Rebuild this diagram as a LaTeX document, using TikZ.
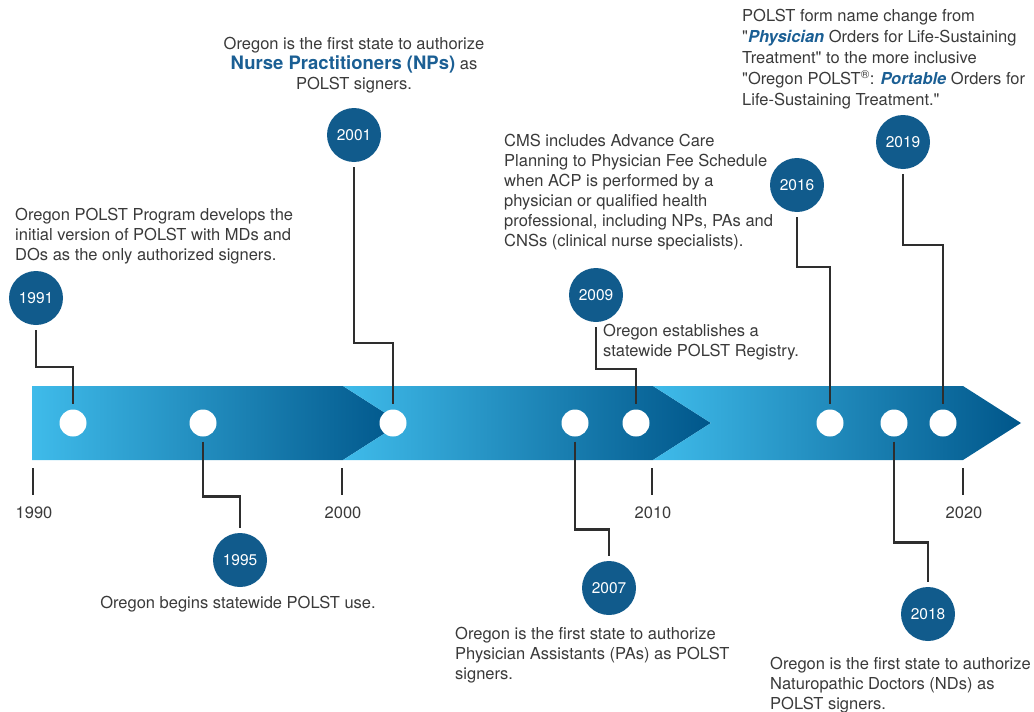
\documentclass[tikz,border=0pt]{standalone}
\usepackage{fontspec}
\setmainfont{TeX Gyre Heros}
\usetikzlibrary{arrows}
\definecolor{bandlight}{HTML}{3FBBEA}
\definecolor{bandmid}{HTML}{0A96CE}
\definecolor{banddark}{HTML}{00568A}
\definecolor{yearblue}{HTML}{115B8C}
\definecolor{hiblue}{HTML}{1B5F94}
\definecolor{txtgray}{HTML}{3A3A3A}
\definecolor{linegray}{HTML}{2E2E2E}
\tikzset{
  yearball/.style={circle,fill=yearblue,minimum size=54pt,inner sep=0pt,text=white,font=\fontsize{15.5}{17}\selectfont},
  hole/.style={circle,fill=white,minimum size=27pt,inner sep=0pt},
  link/.style={draw=linegray,line width=2.5pt,shorten <=5pt,shorten >=5pt},
  tickline/.style={draw=linegray,line width=2.5pt},
  stamp/.style={text=txtgray,font=\fontsize{16.5}{18}\selectfont},
  note/.style={text=txtgray,font=\fontsize{16.5}{20}\selectfont,inner sep=0pt,align=left},
}
\newcommand{\hl}[1]{{\bfseries\color{hiblue}#1}}
\newcommand{\hli}[1]{{\bfseries\itshape\color{hiblue}#1}}
\newcommand{\qq}{\textquotedbl}

\begin{document}
\begin{tikzpicture}[x=1pt,y=-1pt]
  \useasboundingbox (0,0) rectangle (1034,712);
  % chevron band
  \def\segA{(32,386) -- (343,386) -- (401,423) -- (343,460) -- (32,460) -- cycle}
  \def\segB{(343,386) -- (653,386) -- (711,423) -- (653,460) -- (343,460) -- (401,423) -- cycle}
  \def\segC{(653,386) -- (963,386) -- (1021,423) -- (963,460) -- (653,460) -- (711,423) -- cycle}
  \shade[left color=bandlight,middle color=bandmid,right color=banddark] \segA;
  \shade[left color=bandlight,middle color=bandmid,right color=banddark] \segB;
  \shade[left color=bandlight,middle color=bandmid,right color=banddark] \segC;

  % decade ticks
  \foreach \x/\yr in {33/1990,342/2000,652/2010,963/2020}{
    \draw[tickline] (\x,468) -- (\x,495);
    \node[stamp] (l\yr) at (\x+1,513) {\yr};
  }

  % points on the band
  \node[hole] (d1991) at (73,423) {};
  \node[hole] (d1995) at (203,423) {};
  \node[hole] (d2001) at (393,423) {};
  \node[hole] (d2007) at (575,423) {};
  \node[hole] (d2009) at (636,423) {};
  \node[hole] (d2016) at (830,423) {};
  \node[hole] (d2018) at (894,423) {};
  \node[hole] (d2019) at (943,423) {};

  % year balls
  \node[yearball] (y1991) at (36,298) {1991};
  \node[yearball] (y1995) at (240,560) {1995};
  \node[yearball] (y2001) at (354,135) {2001};
  \node[yearball] (y2007) at (609,588) {2007};
  \node[yearball] (y2009) at (596,295) {2009};
  \node[yearball] (y2016) at (797,185) {2016};
  \node[yearball] (y2018) at (928,614) {2018};
  \node[yearball] (y2019) at (903,142) {2019};

  \draw[link] (y1991.south) -- ++(0,42) -| (d1991.north);
  \draw[link] (d1995.south) -- ++(0,60) -| (y1995.north);
  \draw[link] (y2001.south) -- ++(0,181) -| (d2001.north);
  \draw[link] (d2007.south) -- ++(0,93) -| (y2007.north);
  \draw[link] (y2009.south) -- ++(0,47) -| (d2009.north);
  \draw[link] (y2016.south) -- ++(0,55) -| (d2016.north);
  \draw[link] (d2018.south) -- ++(0,106) -| (y2018.north);
  \draw[link] (y2019.south) -- ++(0,76) -| (d2019.north);

  % notes
  \node[note,anchor=north west] (t1991) at (15,208) {Oregon POLST Program develops the\\initial version of POLST with MDs and\\DOs as the only authorized signers.};
  \node[note,anchor=north,align=center] (t2001) at (354,37) {Oregon is the first state to authorize\\{\fontsize{18.5}{20}\selectfont\hl{Nurse Practitioners (NPs)}} as\\POLST signers.};
  \node[note,anchor=north,align=center] (t1995) at (238,596) {Oregon begins statewide POLST use.};
  \node[note,anchor=north west] (t2007) at (455,627) {Oregon is the first state to authorize\\Physician Assistants (PAs) as POLST\\signers.};
  \node[note,anchor=north west] (t2009) at (603,324) {Oregon establishes a\\statewide POLST Registry.};
  \node[note,anchor=north west] (t2016) at (504,134) {CMS includes Advance Care\\Planning to Physician Fee Schedule\\when ACP is performed by a\\physician or qualified health\\professional, including NPs, PAs and\\CNSs (clinical nurse specialists).};
  \node[note,anchor=north west,font=\fontsize{16.5}{21}\selectfont] (t2019) at (742,9) {POLST form name change from\\\qq\hli{Physician} Orders for Life-Sustaining\\Treatment\qq{} to the more inclusive\\\qq Oregon POLST\textsuperscript{®}: \hli{Portable} Orders for\\Life-Sustaining Treatment.\qq};
  \node[note,anchor=north west] (t2018) at (770,657) {Oregon is the first state to authorize\\Naturopathic Doctors (NDs) as\\POLST signers.};
\end{tikzpicture}
\end{document}
